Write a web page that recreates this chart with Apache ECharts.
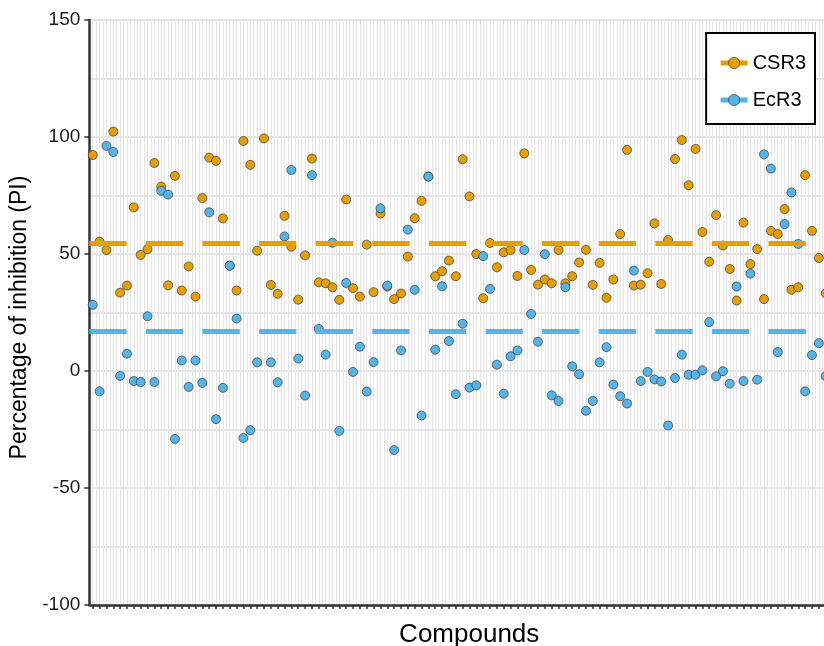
<!DOCTYPE html>
<html>
<head>
<meta charset="utf-8">
<script src="https://cdn.jsdelivr.net/npm/echarts@6/dist/echarts.min.js"></script>
<style>
html,body{margin:0;padding:0;background:#fff;}
#chart{width:824px;height:646px;}
</style>
</head>
<body>
<div id="chart"></div>
<script>
// Compounds (no labels are shown on the x axis)
const compounds = Array.from({length: 108}, (_, i) => 'Compound ' + (i + 1));

// Percentage of inhibition
const csr3 = [
  92.3, 55.3, 51.7, 102.3, 33.5, 36.5, 69.9, 49.6, 52.1, 88.9,
  78.8, 36.6, 83.4, 34.4, 44.7, 31.8, 73.9, 91.2, 89.8, 65.2,
  45.0, 34.4, 98.3, 88.1, 51.4, 99.4, 36.8, 33.0, 66.3, 53.1,
  30.5, 49.4, 90.8, 37.9, 37.5, 35.8, 30.4, 73.3, 35.4, 31.8,
  54.0, 33.7, 67.3, 36.1, 30.7, 33.1, 48.9, 65.3, 72.7, 83.1,
  40.5, 42.6, 47.2, 40.5, 90.5, 74.6, 50.0, 31.1, 54.7, 44.3,
  50.7, 51.7, 40.6, 93.0, 43.2, 36.9, 39.1, 37.5, 51.7, 37.5,
  40.5, 46.4, 51.8, 36.8, 46.2, 31.3, 39.1, 58.5, 94.5, 36.5,
  36.9, 41.8, 63.1, 37.2, 56.0, 90.6, 98.7, 79.4, 94.9, 59.4,
  46.7, 66.6, 53.6, 43.6, 30.1, 63.4, 45.7, 52.1, 30.7, 59.9,
  58.5, 69.2, 34.7, 35.8, 83.7, 59.9, 48.3, 33.2
];
const ecr3 = [
  28.3, -8.7, 96.2, 93.6, -2.1, 7.4, -4.3, -4.7, 23.4, -4.7,
  77.0, 75.4, -29.0, 4.5, -6.8, 4.5, -5.1, 67.8, -20.6, -7.2,
  45.0, 22.4, -28.6, -25.3, 3.7, '-', 3.7, -4.8, 57.5, 85.9,
  5.3, -10.5, 83.7, 18.0, 7.0, 54.8, -25.6, 37.6, -0.4, 10.4,
  -8.8, 3.8, 69.5, 36.5, -33.8, 8.8, 60.4, 34.7, -19.0, 83.1,
  9.1, 36.2, 12.8, -9.9, 20.2, -7.1, -6.1, 49.1, 35.1, 2.7,
  -9.7, 6.3, 8.8, 51.7, 24.4, 12.5, 49.9, -10.4, -12.8, 35.8,
  2.0, -1.4, -17.0, -12.8, 3.7, 10.2, -5.8, -10.8, -13.9, 42.9,
  -4.3, -0.4, -3.6, -4.5, -23.3, -3.0, 7.0, -1.6, -1.6, 0.3,
  20.9, -2.3, -0.1, -5.4, 36.1, -4.3, 41.6, -3.7, 92.6, 86.5,
  8.1, 62.8, 76.3, 54.3, -8.7, 6.8, 11.9, -2.2
];

// Mean (dashed) reference lines
const meanCSR3 = 54.6;
const meanEcR3 = 17.2;

const yTicks = [-100, -50, 0, 50, 100, 150];

const ORANGE = '#E69F00';
const BLUE = '#56B4E9';
const FONT = "'Liberation Sans', Arial, Helvetica, sans-serif";
const GRID = '#e5e5e5';

const chart = echarts.init(document.getElementById('chart'), null, {renderer: 'canvas'});

function meanSeries(name, color, value) {
  return {
    name: name,
    type: 'line',
    data: [],
    symbol: 'circle',
    symbolSize: 9,
    itemStyle: {color: color, borderColor: '#333', borderWidth: 0.7},
    lineStyle: {color: color, width: 5},
    z: 5,
    markLine: {
      silent: true,
      symbol: 'none',
      animation: false,
      label: {show: false},
      lineStyle: {color: color, width: 5, type: [37.3, 19.3], opacity: 1},
      emphasis: {disabled: true},
      data: [{yAxis: value}]
    }
  };
}

function pointSeries(name, color, data) {
  return {
    name: name,
    type: 'scatter',
    xAxisIndex: 0,
    data: data,
    symbol: 'circle',
    symbolSize: 9,
    itemStyle: {color: color, borderColor: '#333', borderWidth: 0.7, opacity: 1},
    z: 3
  };
}

const option = {
  animation: false,
  backgroundColor: '#fff',
  textStyle: {fontFamily: FONT},
  grid: {left: 89.3, right: -5.1, top: 20, bottom: 41, containLabel: false, outerBoundsMode: 'none'},
  legend: {
    orient: 'vertical',
    right: 9,
    top: 33,
    data: [
      {name: 'CSR3', itemStyle: {color: ORANGE, borderColor: '#333', borderWidth: 0.7}},
      {name: 'EcR3', itemStyle: {color: BLUE, borderColor: '#333', borderWidth: 0.7}}
    ],
    backgroundColor: '#fff',
    borderColor: '#000',
    borderWidth: 2,
    borderRadius: 0,
    padding: [20, 9, 14, 12],
    itemWidth: 27,
    itemHeight: 14,
    itemGap: 17,
    textStyle: {fontSize: 20, color: '#000', fontFamily: FONT},
    lineStyle: {type: 'solid', width: 5}
  },
  xAxis: [
    {
      type: 'category',
      data: compounds,
      boundaryGap: true,
      name: 'Compounds',
      nameLocation: 'middle',
      nameGap: 17,
      nameTextStyle: {fontSize: 26, color: '#000', fontFamily: FONT, padding: [0, 0, 0, 20], verticalAlign: 'top'},
      axisLine: {show: true, onZero: false, lineStyle: {color: '#333', width: 2.5}},
      axisTick: {show: true, alignWithLabel: true, interval: 0, length: 4, lineStyle: {color: '#333', width: 1.5}},
      axisLabel: {show: false},
      splitLine: {show: false}
    },
    {
      type: 'value',
      min: -0.5,
      max: 107.5,
      interval: 0.5,
      position: 'bottom',
      show: true,
      axisLine: {show: false, onZero: false},
      axisTick: {show: false},
      axisLabel: {show: false},
      splitLine: {show: true, lineStyle: {color: GRID, width: 1.2}}
    }
  ],
  yAxis: {
    type: 'value',
    min: yTicks[0],
    max: yTicks[yTicks.length - 1],
    interval: 50,
    name: 'Percentage of inhibition (PI)',
    nameLocation: 'middle',
    nameGap: 48,
    nameTextStyle: {fontSize: 23, color: '#000', fontFamily: FONT, padding: [0, 10, 0, 0]},
    axisLine: {show: true, onZero: false, lineStyle: {color: '#333', width: 2.5}},
    axisTick: {show: true, length: 5, lineStyle: {color: '#333', width: 1.5}},
    axisLabel: {fontSize: 19, color: '#1a1a1a', margin: 9, fontFamily: FONT},
    splitLine: {show: true, lineStyle: {color: GRID, width: 2}},
    minorTick: {show: false, splitNumber: 2},
    minorSplitLine: {show: true, lineStyle: {color: GRID, width: 2}}
  },
  series: [
    meanSeries('CSR3', ORANGE, meanCSR3),
    meanSeries('EcR3', BLUE, meanEcR3),
    pointSeries('CSR3', ORANGE, csr3),
    pointSeries('EcR3', BLUE, ecr3)
  ]
};

chart.setOption(option);
</script>
</body>
</html>
